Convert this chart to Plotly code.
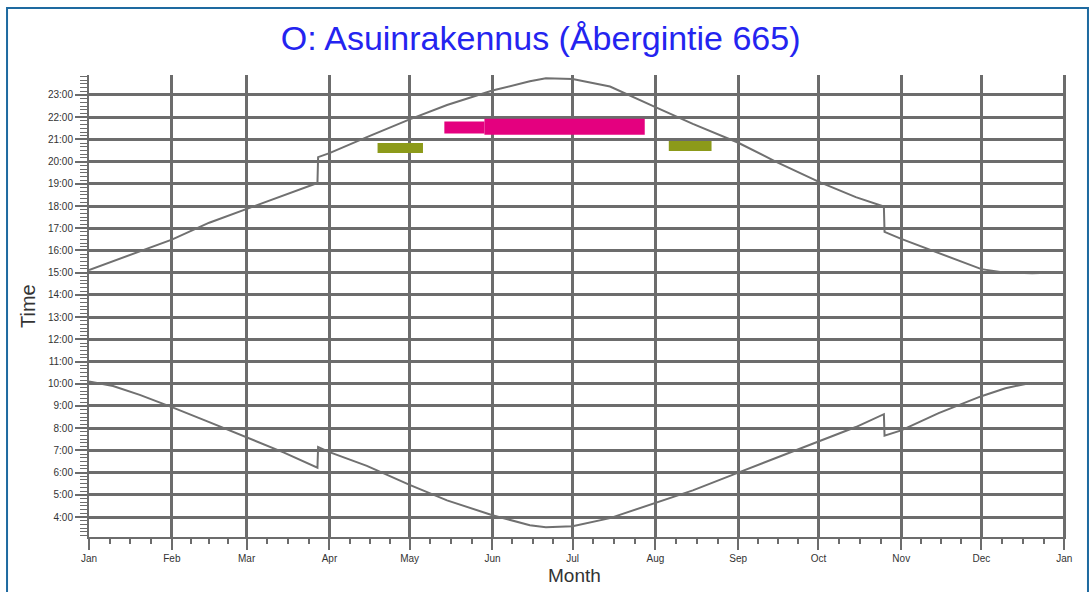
import plotly.graph_objects as go
import pandas as pd

# ---- data ----
sunset_dates = ["2023-01-01", "2023-01-15", "2023-02-01", "2023-02-15", "2023-03-01", "2023-03-15",
                "2023-03-27 12:00", "2023-03-27 18:00", "2023-04-01", "2023-04-15", "2023-05-01", "2023-05-15",
                "2023-06-01", "2023-06-15", "2023-06-21", "2023-07-01", "2023-07-15", "2023-08-01",
                "2023-08-15", "2023-09-01", "2023-09-15", "2023-10-01", "2023-10-15",
                "2023-10-25 12:00", "2023-10-25 18:00", "2023-11-01", "2023-11-15", "2023-12-01",
                "2023-12-10", "2023-12-20", "2024-01-01"]
sunset_hours = [15.12, 15.75, 16.49, 17.25, 17.88, 18.5,
                19.04, 20.2, 20.38, 21.1, 21.9, 22.55,
                23.2, 23.62, 23.75, 23.72, 23.38, 22.45,
                21.7, 20.85, 20.0, 19.1, 18.4,
                17.98, 16.84, 16.52, 15.88, 15.16,
                15.0, 14.98, 15.02]

sunrise_dates = ["2023-01-01", "2023-01-10", "2023-01-20", "2023-02-01", "2023-02-15", "2023-03-01", "2023-03-15",
                 "2023-03-27 12:00", "2023-03-27 18:00", "2023-04-01", "2023-04-15", "2023-05-01", "2023-05-15",
                 "2023-06-01", "2023-06-15", "2023-06-21", "2023-07-01", "2023-07-15", "2023-08-01",
                 "2023-08-15", "2023-09-01", "2023-09-15", "2023-10-01", "2023-10-15",
                 "2023-10-25 12:00", "2023-10-25 18:00", "2023-11-01", "2023-11-15", "2023-12-01",
                 "2023-12-10", "2023-12-18", "2024-01-01"]
sunrise_hours = [10.1, 9.9, 9.5, 8.95, 8.27, 7.6, 6.9,
                 6.22, 7.15, 6.92, 6.3, 5.45, 4.75,
                 4.08, 3.63, 3.54, 3.58, 3.95, 4.62,
                 5.2, 6.0, 6.65, 7.37, 8.05,
                 8.63, 7.66, 7.9, 8.68, 9.44,
                 9.8, 10.0, 10.02]

magenta_start = ["2023-05-14", "2023-05-29"]
magenta_end = ["2023-05-29", "2023-07-28"]
magenta_time = [21.54, 21.57]
magenta_width = [12, 16]

olive_start = ["2023-04-19", "2023-08-06"]
olive_end = ["2023-05-06", "2023-08-22"]
olive_time = [20.61, 20.7]

hour_ticks = list(range(4, 24))
hour_labels = [f"{h}:00" for h in hour_ticks]
month_ticks = pd.date_range("2023-01-01", "2024-01-01", freq="MS")
month_labels = [d.strftime("%b") for d in month_ticks]

# ---- styling ----
GRID = "#6c6c6c"
CURVE = "#707070"
MAGENTA = "#E4007F"
OLIVE = "#8C9A1A"

# minor x ticks at quarter months
minor_x = []
for a, b in zip(month_ticks[:-1], month_ticks[1:]):
    step = (b - a) / 4
    for k in (1, 2, 3):
        minor_x.append(a + step * k)

fig = go.Figure()
fig.add_trace(go.Scatter(x=sunset_dates, y=sunset_hours, mode="lines",
                         line=dict(color=CURVE, width=2), showlegend=False, hoverinfo="skip"))
fig.add_trace(go.Scatter(x=sunrise_dates, y=sunrise_hours, mode="lines",
                         line=dict(color=CURVE, width=2), showlegend=False, hoverinfo="skip"))
for s, e, t, w in zip(magenta_start, magenta_end, magenta_time, magenta_width):
    fig.add_trace(go.Scatter(x=[s, e], y=[t, t], mode="lines",
                             line=dict(color=MAGENTA, width=w),
                             showlegend=False, hoverinfo="skip"))
for s, e, t in zip(olive_start, olive_end, olive_time):
    fig.add_trace(go.Scatter(x=[s, e], y=[t, t], mode="lines",
                             line=dict(color=OLIVE, width=10),
                             showlegend=False, hoverinfo="skip"))

tickfont = dict(family="Liberation Sans Narrow, Arial Narrow, Liberation Sans, Arial", size=10, color="#333333")

fig.update_layout(
    width=1090, height=592,
    margin=dict(l=89, r=24, t=75, b=55),
    paper_bgcolor="white", plot_bgcolor="white",
    title=dict(text="O: Asuinrakennus (Åbergintie 665)", x=0.496, xref="container",
               y=1 - 38 / 592, yref="container", xanchor="center", yanchor="middle",
               font=dict(family="Liberation Sans, Arial", size=34, color="#2424F0")),
    xaxis=dict(type="date", range=["2023-01-01", "2024-01-01 16:00"],
               tickvals=list(month_ticks), ticktext=month_labels,
               showgrid=True, gridcolor=GRID, gridwidth=2.5,
               showline=True, linecolor=GRID, linewidth=2,
               ticks="outside", ticklen=11, tickwidth=2, tickcolor=GRID,
               minor=dict(tickvals=minor_x, ticks="outside", ticklen=5, tickwidth=1.5,
                          tickcolor=GRID, showgrid=False),
               tickfont=tickfont, zeroline=False, fixedrange=True, automargin=False),
    yaxis=dict(range=[3.1, 23.9], tickvals=hour_ticks, ticktext=hour_labels,
               showgrid=True, gridcolor=GRID, gridwidth=2.5,
               showline=True, linecolor=GRID, linewidth=2,
               ticks="outside", ticklen=12, tickwidth=1.5, tickcolor=GRID,
               minor=dict(tickmode="linear", tick0=0, dtick=1 / 6, ticks="outside", ticklen=7,
                          tickwidth=1.2, tickcolor=GRID, showgrid=False),
               tickfont=tickfont, zeroline=False, fixedrange=True, automargin=False),
    annotations=[
        dict(text="Time", x=-0.0624, y=0.5, xref="paper", yref="paper", textangle=-90,
             showarrow=False, xanchor="center", yanchor="middle",
             font=dict(family="Liberation Sans, Arial", size=20, color="#333333")),
        dict(text="Month", x=0.497, y=-0.0844, xref="paper", yref="paper",
             showarrow=False, xanchor="center", yanchor="middle",
             font=dict(family="Liberation Sans, Arial", size=19, color="#333333")),
    ],
    shapes=[dict(type="rect", xref="paper", yref="paper", x0=-0.0839, x1=1.0225, y0=-0.2, y1=1.145,
                 line=dict(color="#1E6AA0", width=2), fillcolor="rgba(0,0,0,0)", layer="above")],
)

fig.write_html("out.html", config={"displayModeBar": False},
               post_script="document.body.style.margin='0px';")
